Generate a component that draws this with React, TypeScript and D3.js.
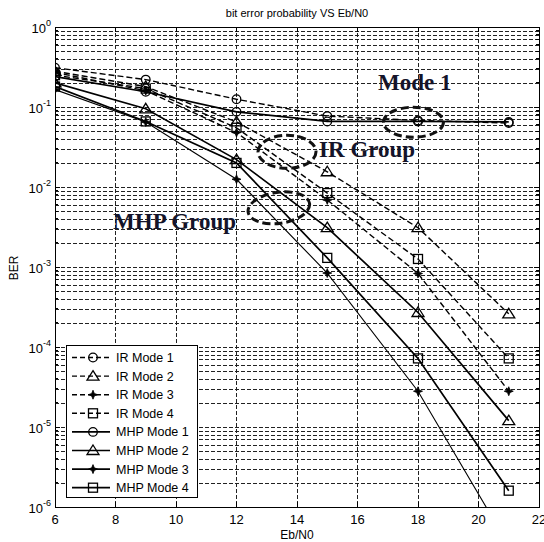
import React from "react";
import * as d3 from "d3";

// Eb/N0 sample points (dB)
const ebn0 = [6, 9, 12, 15, 18, 21];

// BER per series
const irMode1 = [0.31, 0.22, 0.125, 0.077, 0.068, 0.063];
const irMode2 = [0.28, 0.18, 0.065, 0.0155, 0.0031, 2.6e-4];
const irMode3 = [0.27, 0.16, 0.048, 0.0069, 8.3e-4, 2.8e-5];
const irMode4 = [0.25, 0.17, 0.055, 0.0084, 0.00126, 7.2e-5];
const mhpMode1 = [0.24, 0.155, 0.087, 0.066, 0.066, 0.065];
const mhpMode2 = [0.2, 0.095, 0.022, 0.0031, 2.7e-4, 1.2e-5];
const mhpMode3 = [0.165, 0.065, 0.0125, 8.4e-4, 2.8e-5, 3.3e-7];
const mhpMode4 = [0.18, 0.066, 0.02, 0.0013, 7.2e-5, 1.6e-6];

const seriesNames = [
  "IR Mode 1", "IR Mode 2", "IR Mode 3", "IR Mode 4",
  "MHP Mode 1", "MHP Mode 2", "MHP Mode 3", "MHP Mode 4",
];
const seriesValues = [irMode1, irMode2, irMode3, irMode4, mhpMode1, mhpMode2, mhpMode3, mhpMode4];
const seriesMarkers = ["circle", "triangle", "star", "square", "circle", "triangle", "star", "square"];
const seriesDashed = [true, true, true, true, false, false, false, false];

const xTicks = [6, 8, 10, 12, 14, 16, 18, 20, 22];
const yExponents = [0, -1, -2, -3, -4, -5, -6];

const W = 544;
const H = 542;
const left = 55, right = 539, top = 27, bottom = 507;

const x = d3.scaleLinear().domain([6, 22]).range([left, right]);
const y = d3.scaleLog().domain([1e-6, 1]).range([bottom, top]);

function Marker({ kind, cx, cy }: { kind: string; cx: number; cy: number }) {
  const sw = 1.3;
  if (kind === "circle") return <circle cx={cx} cy={cy} r={4.3} fill="none" stroke="#000" strokeWidth={sw} />;
  if (kind === "square") return <rect x={cx - 4.5} y={cy - 4.5} width={9} height={9} fill="none" stroke="#000" strokeWidth={sw} />;
  if (kind === "triangle")
    return (
      <path d={`M${cx},${cy - 5.5}L${cx + 6},${cy + 4}L${cx - 6},${cy + 4}Z`} fill="none" stroke="#000" strokeWidth={sw} />
    );
  // filled four-point star
  const r = 4.5, k = 1.3;
  return (
    <path
      d={`M${cx},${cy - r}L${cx + k},${cy - k}L${cx + r},${cy}L${cx + k},${cy + k}L${cx},${cy + r}L${cx - k},${cy + k}L${cx - r},${cy}L${cx - k},${cy - k}Z`}
      fill="#000" stroke="#000" strokeWidth={0.8}
    />
  );
}

// Annotation labels and grouping ellipses, in data coordinates
const notes = [
  { text: "Mode 1", x: 16.68, v: 10 ** -0.79 },
  { text: "IR Group", x: 14.73, v: 10 ** -1.625 },
  { text: "MHP Group", x: 7.92, v: 10 ** -2.53 },
];
const rings = [
  { x: 17.85, v: 10 ** -1.19, rx: 30, ry: 15, rot: 0 },
  { x: 13.67, v: 10 ** -1.56, rx: 29, ry: 16.5, rot: 0 },
  { x: 13.4, v: 10 ** -2.26, rx: 31, ry: 15.5, rot: -8 },
];

export default function App() {
  const line = d3
    .line<[number, number]>()
    .x((d) => x(d[0]))
    .y((d) => y(d[1]));

  const minorVals: number[] = [];
  for (let e = -6; e < 0; e++) for (let m = 2; m <= 9; m++) minorVals.push(m * 10 ** e);
  const majorVals = yExponents.map((e) => 10 ** e);

  const gridColor = "#222";
  const legX = 66, legY = 345, legW = 131, legH = 152, legStep = 18.6;

  return (
    <svg width={W} height={H} style={{ position: "absolute", left: 0, top: 0, background: "#fff" }} fontFamily="'Liberation Sans', Arial, sans-serif">
      <defs>
        <clipPath id="plotClip">
          <rect x={left} y={top} width={right - left} height={bottom - top} />
        </clipPath>
      </defs>
      <rect x={0} y={0} width={W} height={H} fill="#fff" />

      {/* grid */}
      <g stroke={gridColor} strokeWidth={1} strokeDasharray="4 2" shapeRendering="crispEdges">
        {xTicks.slice(1, -1).map((t) => (
          <line key={`gx${t}`} x1={x(t)} x2={x(t)} y1={top} y2={bottom} />
        ))}
        {[...minorVals, ...majorVals.slice(1, -1)].map((v, i) => (
          <line key={`gy${i}`} x1={left} x2={right} y1={Math.round(y(v)) + 0.5} y2={Math.round(y(v)) + 0.5} />
        ))}
      </g>

      {/* ticks */}
      <g stroke="#000" strokeWidth={1} shapeRendering="crispEdges">
        {xTicks.map((t) => (
          <g key={`tx${t}`}>
            <line x1={x(t)} x2={x(t)} y1={bottom} y2={bottom - 5} />
            <line x1={x(t)} x2={x(t)} y1={top} y2={top + 5} />
          </g>
        ))}
        {majorVals.map((v, i) => (
          <g key={`ty${i}`}>
            <line x1={left} x2={left + 5} y1={y(v)} y2={y(v)} />
            <line x1={right} x2={right - 5} y1={y(v)} y2={y(v)} />
          </g>
        ))}
        {minorVals.map((v, i) => (
          <g key={`tm${i}`}>
            <line x1={left} x2={left + 3} y1={y(v)} y2={y(v)} />
            <line x1={right} x2={right - 3} y1={y(v)} y2={y(v)} />
          </g>
        ))}
      </g>

      {/* series */}
      <g clipPath="url(#plotClip)">
        {seriesValues.map((vals, i) => {
          const pts = ebn0.map((e, j) => [e, vals[j]] as [number, number]);
          return (
            <path
              key={`s${i}`}
              d={line(pts) || ""}
              fill="none"
              stroke="#000"
              strokeWidth={i === 6 ? 1.1 : seriesDashed[i] ? 1.4 : 1.7}
              strokeDasharray={seriesDashed[i] ? "6 3" : undefined}
            />
          );
        })}
        {seriesValues.map((vals, i) =>
          ebn0.map((e, j) =>
            vals[j] >= 1e-6 ? <Marker key={`m${i}-${j}`} kind={seriesMarkers[i]} cx={x(e)} cy={y(vals[j])} /> : null
          )
        )}
      </g>

      {/* annotations */}
      <g fill="none" stroke="#111" strokeWidth={3} strokeDasharray="8 4">
        {rings.map((r, i) => (
          <ellipse key={`r${i}`} cx={x(r.x)} cy={y(r.v)} rx={r.rx} ry={r.ry}
            transform={`rotate(${r.rot} ${x(r.x)} ${y(r.v)})`} />
        ))}
      </g>
      <g fontFamily="'Liberation Serif', 'Times New Roman', serif" fontWeight="bold" fontSize={23} fill="#14142a">
        {notes.map((n) => (
          <text key={n.text} x={x(n.x)} y={y(n.v)}>{n.text}</text>
        ))}
      </g>

      {/* axes box */}
      <rect x={left} y={top} width={right - left} height={bottom - top} fill="none" stroke="#000" strokeWidth={1} shapeRendering="crispEdges" />

      {/* tick labels */}
      <g fontSize={13} fill="#000">
        {xTicks.map((t) => (
          <text key={`lx${t}`} x={x(t)} y={bottom + 17} textAnchor="middle">{t}</text>
        ))}
        {yExponents.map((e) => (
          <text key={`ly${e}`} x={left - 4} y={y(10 ** e) + 6} textAnchor="end">
            10<tspan dy={-7} fontSize={9}>{e}</tspan>
          </text>
        ))}
      </g>

      {/* titles */}
      <text x={(left + right) / 2} y={17} textAnchor="middle" fontSize={11}>bit error probability VS Eb/N0</text>
      <text x={(left + right) / 2} y={539} textAnchor="middle" fontSize={12}>Eb/N0</text>
      <text transform={`translate(18, 268) rotate(-90)`} textAnchor="middle" fontSize={12}>BER</text>

      {/* legend */}
      <g>
        <rect x={legX} y={legY} width={legW} height={legH} fill="#fff" stroke="#000" strokeWidth={1} shapeRendering="crispEdges" />
        {seriesNames.map((name, i) => {
          const ly = legY + 12.5 + i * legStep;
          return (
            <g key={`leg${i}`}>
              <line x1={legX + 6} x2={legX + 44} y1={ly} y2={ly} stroke="#000" strokeWidth={seriesDashed[i] ? 1.4 : 1.7}
                strokeDasharray={seriesDashed[i] ? "5 3" : undefined} />
              <Marker kind={seriesMarkers[i]} cx={legX + 27} cy={ly} />
              <text x={legX + 50} y={ly + 4.5} fontSize={12.5}>{name}</text>
            </g>
          );
        })}
      </g>
    </svg>
  );
}
